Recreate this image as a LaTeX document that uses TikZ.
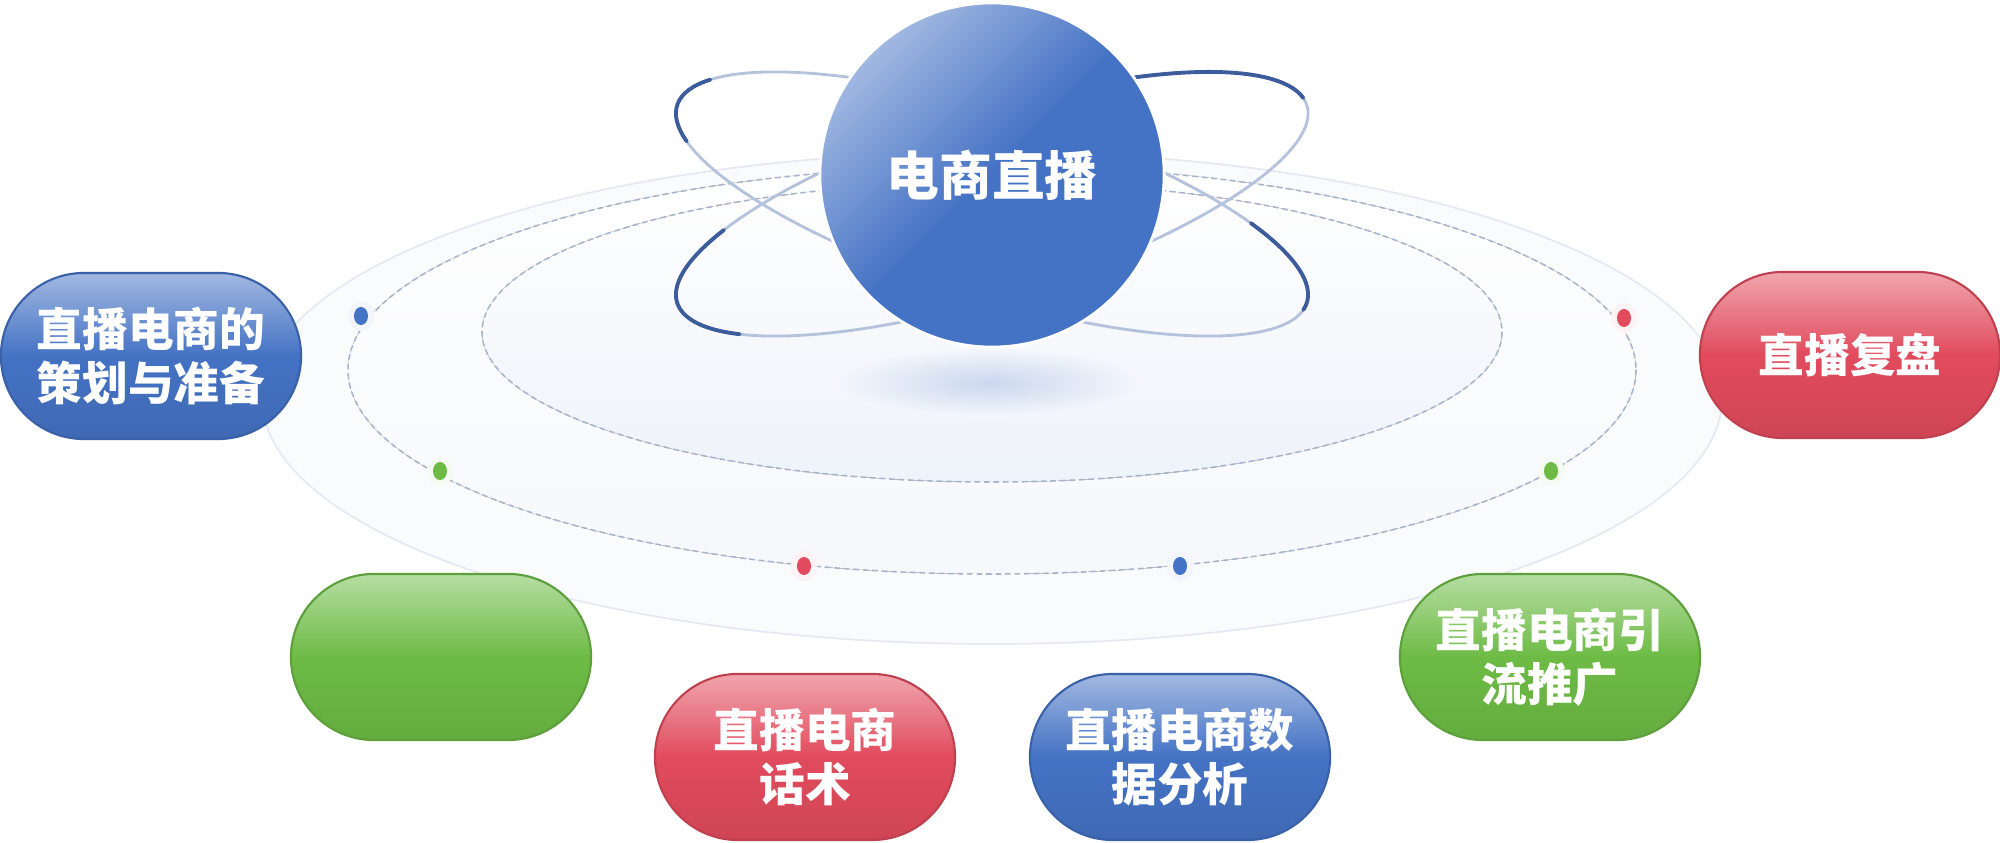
\documentclass[tikz,border=0pt]{standalone}
\usepackage{fontspec}
\newfontfamily\cjk{Noto Sans CJK SC}
\usetikzlibrary{shapes.misc}
\definecolor{pblue}{HTML}{4472C4}
\definecolor{pred}{HTML}{E14B5D}
\definecolor{pgreen}{HTML}{6DBB45}
\definecolor{orbitL}{HTML}{B4C2DB}
\definecolor{orbitD}{HTML}{3D5C9C}
\definecolor{ringL}{HTML}{E4E9F2}
\definecolor{ringD}{HTML}{A7B4CB}
\begin{document}
\begin{tikzpicture}[x=0.01cm,y=-0.01cm]
    \tikzstyle{every node} = [font=\cjk\bfseries\fontsize{13}{15.4}\selectfont, text=white]
    \tikzstyle{pill} = [rounded rectangle, minimum width=3cm, minimum height=1.66cm, align=center, inner sep=0pt, line width=0.6pt]
    \tikzstyle{orbit} = [orbitL, line width=0.8pt]
    \tikzstyle{orbitdark} = [orbitD, line width=1.1pt, line cap=round]
    \tikzstyle{ring} = [draw=ringD, dash pattern=on 1.6pt off 1.1pt, line width=0.45pt]
    \fill[white] (0,0) rectangle (2000,843);
    \useasboundingbox (0,0) rectangle (2000,843);

    % platform
    \filldraw[fill=pblue!3!white, draw=ringL, line width=0.5pt] (992,398) ellipse [x radius=730, y radius=246];
    \filldraw[ring, top color=white, bottom color=pblue!5!white] (992,370) ellipse [x radius=644, y radius=204];
    \filldraw[ring, top color=white, bottom color=pblue!9!white] (992,332) ellipse [x radius=510, y radius=150];
    \shade[inner color=pblue!28!white, outer color=pblue!6!white] (989,383) ellipse [x radius=153, y radius=34];

    % orbits
    \begin{scope}[shift={(992,204)}, y=0.01cm, rotate=-17.4]
        \draw[orbit] (0,0) ellipse [x radius=330, y radius=92];
        \draw[orbitdark] ({330*cos(158)},{92*sin(158)}) arc [start angle=158, end angle=200, x radius=330, y radius=92];
        \draw[orbitdark] ({330*cos(-5)},{92*sin(-5)}) arc [start angle=-5, end angle=40, x radius=330, y radius=92];
    \end{scope}
    \begin{scope}[shift={(992,204)}, y=0.01cm, rotate=17.4]
        \draw[orbit] (0,0) ellipse [x radius=330, y radius=92];
        \draw[orbitdark] ({330*cos(5)},{92*sin(5)}) arc [start angle=5, end angle=65, x radius=330, y radius=92];
        \draw[orbitdark] ({330*cos(143)},{92*sin(143)}) arc [start angle=143, end angle=212, x radius=330, y radius=92];
    \end{scope}

    % centre
    \node[circle, minimum size=3.44cm, draw=white, line width=0.8pt, left color=pblue!50!white, right color=pblue, middle color=pblue, shading angle=45,
          font=\cjk\bfseries\fontsize{15}{18}\selectfont] (live) at (992,175) {电商直播};

    % dots on the ring
    \foreach \px/\py/\col in {361/316/pblue, 440/471/pgreen, 804/566/pred, 1180/566/pblue, 1551/471/pgreen, 1624/318/pred}{
        \fill[\col!7!white] (\px,\py) ellipse [x radius=13, y radius=15];
        \fill[\col] (\px,\py) ellipse [x radius=7, y radius=9];
    }

    % topics
    \foreach \nm/\px/\py/\col/\txt in {plan/151/356/pblue/{直播电商的\\策划与准备},
                                       review/1850/355/pred/{直播复盘},
                                       blank/441/657/pgreen/{},
                                       talk/805/757/pred/{直播电商\\话术},
                                       data/1180/757/pblue/{直播电商数\\据分析},
                                       promo/1550/657/pgreen/{直播电商引\\流推广}}{
        \node[pill, draw=\col!85!black, top color=\col!50!white, bottom color=\col!92!black, middle color=\col] (\nm) at (\px,\py) {\txt};
    }
\end{tikzpicture}
\end{document}
